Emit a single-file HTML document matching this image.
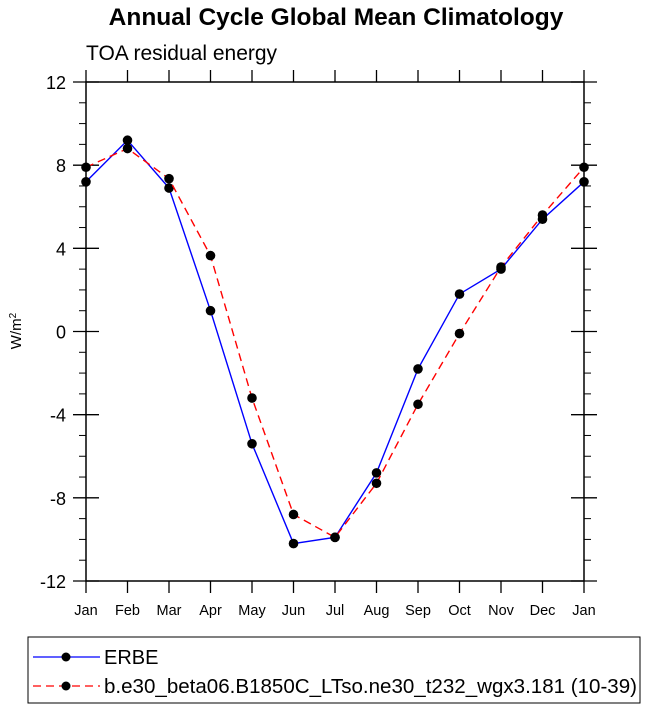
<!DOCTYPE html>
<html><head><meta charset="utf-8"><style>
body{margin:0;background:#fff;width:647px;height:710px;overflow:hidden}
svg{font-family:"Liberation Sans",sans-serif}
</style></head><body>
<svg width="647" height="710">
<text x="336" y="25" text-anchor="middle" font-size="24.5" font-weight="bold">Annual Cycle Global Mean Climatology</text>
<text x="86" y="60" font-size="21">TOA residual energy</text>
<g id="axes"></g>
<g id="series"></g>
<text transform="translate(21,331) rotate(-90)" text-anchor="middle" font-size="15">W/m<tspan baseline-shift="super" font-size="10">2</tspan></text>
<rect x="28" y="637" width="612" height="66" fill="none" stroke="#000" stroke-width="1"/>
<g>
<line x1="33" y1="657" x2="100" y2="657" stroke="#00f" stroke-width="1.3"/><circle cx="66" cy="657" r="4.5"/>
<text x="104" y="664" font-size="20">ERBE</text></g>
<g>
<line x1="33" y1="686" x2="100" y2="686" stroke="#f00" stroke-width="1.3" stroke-dasharray="8,5"/><circle cx="66" cy="686" r="4.5"/>
<text x="104" y="693" font-size="20" textLength="533" lengthAdjust="spacingAndGlyphs">b.e30_beta06.B1850C_LTso.ne30_t232_wgx3.181 (10-39)</text></g>
</svg>
<script>
const months=["Jan","Feb","Mar","Apr","May","Jun","Jul","Aug","Sep","Oct","Nov","Dec","Jan"];
const erbe=[7.2,9.2,6.9,1.0,-5.4,-10.2,-9.9,-6.8,-1.8,1.8,3.0,5.4,7.2];
const model=[7.9,8.8,7.35,3.65,-3.2,-8.8,-9.9,-7.3,-3.5,-0.1,3.1,5.6,7.9];
const yTicks=[-12,-8,-4,0,4,8,12];
const L=86,R=584,T=82,B=581,ymin=-12,ymax=12;
const xs=i=>L+i*(R-L)/12;
const ys=v=>B-(v-ymin)/(ymax-ymin)*(B-T);
const NS="http://www.w3.org/2000/svg";
function mk(p,t,a){const e=document.createElementNS(NS,t);for(const k in a)e.setAttribute(k,a[k]);p.appendChild(e);return e;}
const ax=document.getElementById('axes');
const fr=mk(ax,'rect',{x:L,y:T,width:R-L,height:B-T,fill:'none',stroke:'#000','stroke-width':1.5});


for(let v=ymin;v<=ymax;v++){
 const y=ys(v);
 if(v%4===0){
  mk(ax,'line',{x1:L-13,y1:y,x2:L+13,y2:y,stroke:'#000','stroke-width':1.3});
  mk(ax,'line',{x1:R-13,y1:y,x2:R+13,y2:y,stroke:'#000','stroke-width':1.3});
 }else{
  mk(ax,'line',{x1:L-7,y1:y,x2:L,y2:y,stroke:'#000','stroke-width':1});
  mk(ax,'line',{x1:R,y1:y,x2:R+7,y2:y,stroke:'#000','stroke-width':1});
 }
}
yTicks.forEach(v=>{
 const t=mk(ax,'text',{x:66,y:ys(v)+7,'text-anchor':'end','font-size':18});
 t.textContent=v;
 
 
});
months.forEach((m,i)=>{
 const x=xs(i);
 mk(ax,'line',{x1:x,y1:T-12,x2:x,y2:T,stroke:'#000','stroke-width':1.3});
 mk(ax,'line',{x1:x,y1:B,x2:x,y2:B+12,stroke:'#000','stroke-width':1.3});
 const t=mk(ax,'text',{x:x,y:B+34,'text-anchor':'middle','font-size':14.5});
 t.textContent=m;
 
 
});
const sg=document.getElementById('series');
function series(vals,color,dash,name){
 const g=mk(sg,'g',{});
 
 
 const pts=vals.map((v,i)=>xs(i)+','+ys(v)).join(' ');
 const a={points:pts,fill:'none',stroke:color,'stroke-width':1.4};
 if(dash)a['stroke-dasharray']=dash;
 mk(g,'polyline',a);
 vals.forEach((v,i)=>{
  const c=mk(g,'circle',{cx:xs(i),cy:ys(v),r:4.8,fill:'#000'});
  
  
 });
}
series(erbe,'#00f',null,'series-erbe');
series(model,'#f00','8,5','series-model');
</script>
</body></html>
